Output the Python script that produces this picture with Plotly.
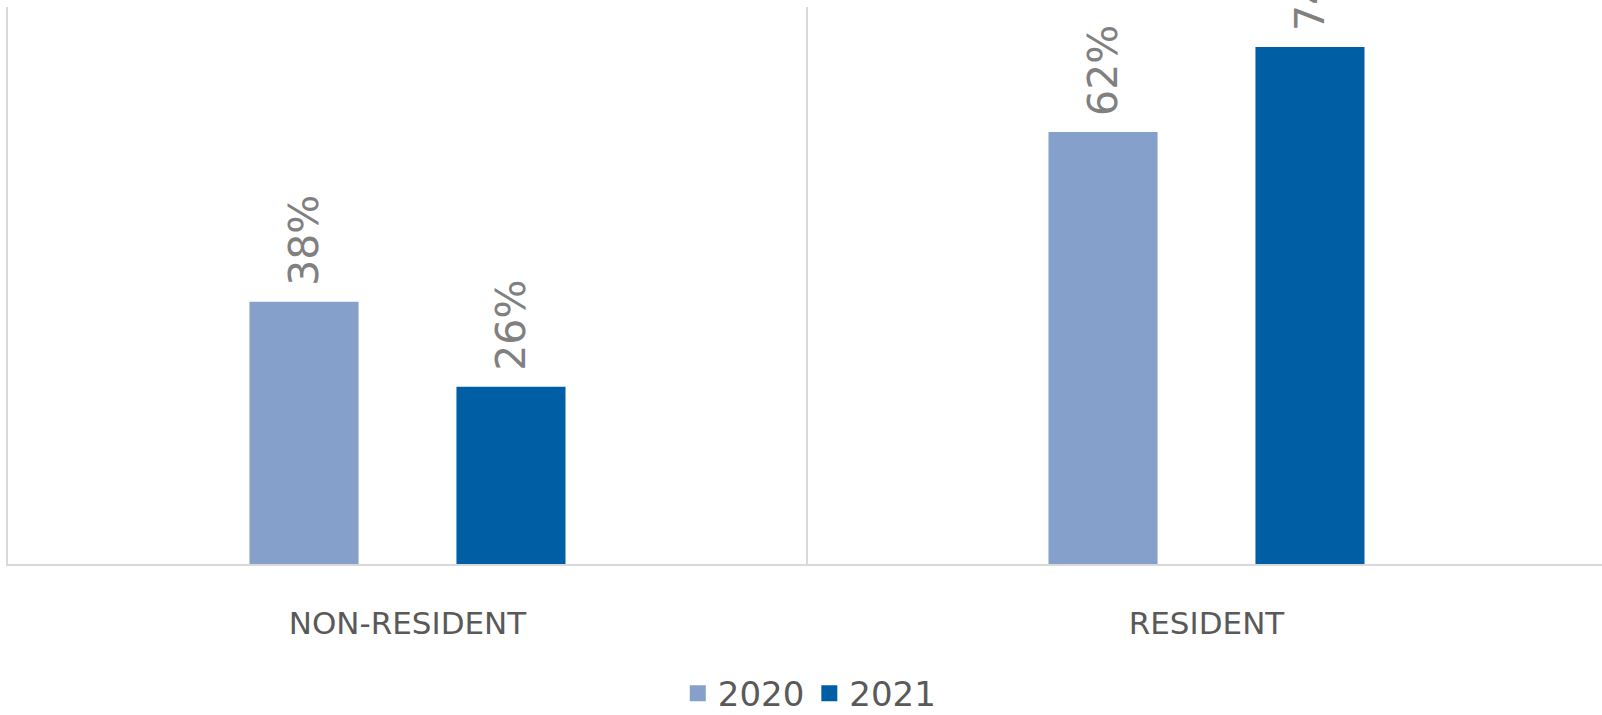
import plotly.graph_objects as go

categories = ["NON-RESIDENT", "RESIDENT"]
series_names = ["2020", "2021"]
values_2020 = [38, 62]
values_2021 = [26, 74]
colors = ["#84A0CB", "#005FA4"]

FONT = "DejaVu Sans"

fig = go.Figure()
for name, vals, col in zip(series_names, [values_2020, values_2021], colors):
    fig.add_trace(go.Bar(
        x=categories, y=vals, name=name,
        marker=dict(color=col, line=dict(width=0)),
        texttemplate="\u00a0%{y}%",
        textposition="outside",
        textangle=-90,
        constraintext="none",
        cliponaxis=False,
        textfont=dict(family=FONT, size=41, color="#808080"),
        showlegend=False,
    ))

# legend entries with larger square swatches
for name, col in zip(series_names, colors):
    fig.add_trace(go.Scatter(
        x=[None], y=[None], mode="markers", name=name,
        marker=dict(symbol="square", size=24, color=col),
        showlegend=True,
    ))

fig.update_layout(
    width=1602, height=715,
    margin=dict(l=8, r=0, t=7, b=151, autoexpand=False),
    paper_bgcolor="white", plot_bgcolor="white",
    barmode="group",
    bargap=0.482,
    bargroupgap=0.473,
    showlegend=True,
    legend=dict(
        orientation="h", x=0.503, xanchor="center",
        yref="container", y=0.03, yanchor="middle",
        font=dict(family=FONT, size=34, color="#595959"),
        itemsizing="trace",
    ),
    xaxis=dict(
        type="category",
        range=[-0.5, 1.495],
        automargin=False,
        tickson="boundaries",
        showgrid=True, gridcolor="#D9D9D9", gridwidth=1.5,
        showline=True, linecolor="#D9D9D9", linewidth=1.5,
        ticks="", ticklabelstandoff=31,
        tickfont=dict(family=FONT, size=31, color="#595959"),
    ),
    yaxis=dict(
        range=[0.97, 79.65],
        automargin=False,
        showgrid=False, zeroline=False, showticklabels=False,
        showline=True, linecolor="#D9D9D9", linewidth=1.5,
    ),
)

fig.write_html("out.html")
